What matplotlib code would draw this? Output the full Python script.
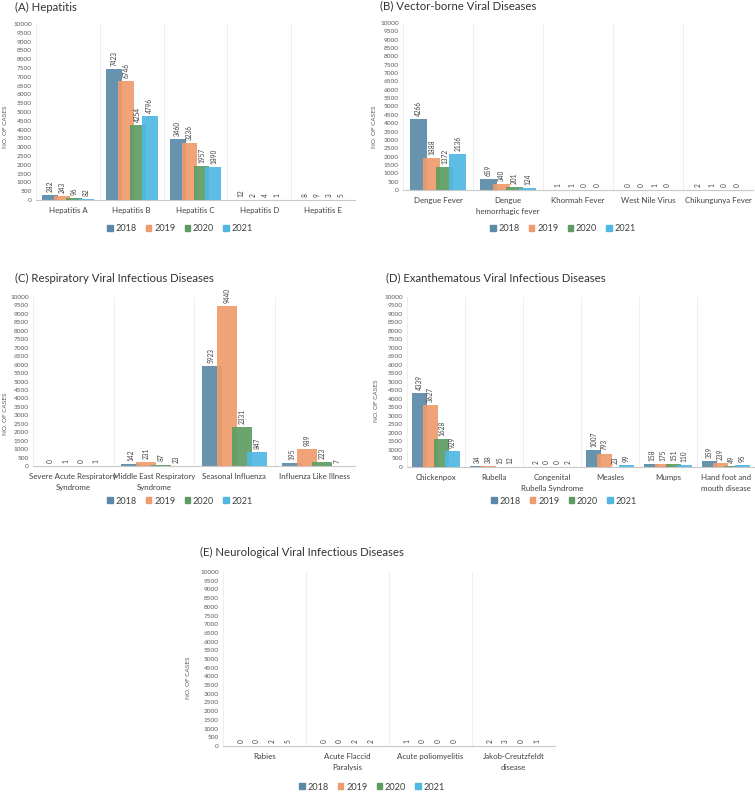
import numpy as np
import matplotlib
matplotlib.use("Agg")
from matplotlib import pyplot as plt
from matplotlib.patches import Patch

plt.rcParams['font.family'] = ['Lato', 'DejaVu Sans']

YEARS = ['2018', '2019', '2020', '2021']
COLORS = ['#5a8aa8', '#f09b6c', '#5f9c64', '#50b8e2']

# (A) Hepatitis
hep_labels = ['Hepatitis A', 'Hepatitis B', 'Hepatitis C', 'Hepatitis D', 'Hepatitis E']
hep_2018 = [282, 7423, 3460, 12, 8]
hep_2019 = [243, 6746, 3236, 2, 9]
hep_2020 = [96, 4254, 1957, 4, 3]
hep_2021 = [82, 4796, 1890, 1, 5]

# (B) Vector-borne
vec_labels = ['Dengue Fever', 'Dengue\nhemorrhagic fever', 'Khormah Fever',
              'West Nile Virus', 'Chikungunya Fever']
vec_2018 = [4266, 659, 1, 0, 2]
vec_2019 = [1888, 340, 1, 0, 1]
vec_2020 = [1372, 201, 0, 1, 0]
vec_2021 = [2136, 124, 0, 0, 0]

# (C) Respiratory
resp_labels = ['Severe Acute Respiratory\nSyndrome', 'Middle East Respiratory\nSyndrome',
               'Seasonal Influenza', 'Influenza Like Illness']
resp_2018 = [0, 142, 5923, 195]
resp_2019 = [1, 231, 9440, 989]
resp_2020 = [0, 87, 2331, 223]
resp_2021 = [1, 23, 847, 7]

# (D) Exanthematous
exan_labels = ['Chickenpox', 'Rubella', 'Congenital\nRubella Syndrome', 'Measles',
               'Mumps', 'Hand foot and\nmouth disease']
exan_2018 = [4339, 34, 2, 1007, 158, 359]
exan_2019 = [3627, 38, 0, 793, 175, 239]
exan_2020 = [1628, 15, 0, 23, 151, 49]
exan_2021 = [929, 12, 2, 99, 110, 95]

# (E) Neurological
neuro_labels = ['Rabies', 'Acute Flaccid\nParalysis', 'Acute poliomyelitis',
                'Jakob-Creutzfeldt\ndisease']
neuro_2018 = [0, 0, 1, 2]
neuro_2019 = [0, 0, 0, 3]
neuro_2020 = [2, 2, 0, 0]
neuro_2021 = [5, 2, 0, 1]

W, H = 755, 793
fig = plt.figure(figsize=(W / 100, H / 100), dpi=100)


def px_axes(left, top, right, bottom):
    return fig.add_axes([left / W, 1 - bottom / H, (right - left) / W, (bottom - top) / H])


def draw_panel(box, title, title_xy, labels, series, ylab_xy, leg_xy):
    ax = px_axes(*box)
    n = len(labels)
    x = np.arange(n)
    step, width = 0.1875, 0.25
    for k, vals in enumerate(series):
        pos = x + (k - 1.5) * step
        ax.bar(pos, vals, width=width, color=COLORS[k], alpha=0.92, zorder=2 + k)
        for p, v in zip(pos, vals):
            ax.annotate(str(v), (p, v), xytext=(0, 2.2), textcoords='offset points',
                        rotation=90, ha='center', va='bottom', fontsize=4.7,
                        color='#404040', zorder=10)
    for b in np.arange(n + 1) - 0.5:
        ax.axvline(b, color='#ebebeb', lw=0.6, zorder=0)
    ax.set_xlim(-0.5, n - 0.5)
    ax.set_ylim(0, 10000)
    ax.set_yticks(np.arange(0, 10001, 500))
    ax.set_xticks(x)
    ax.set_xticklabels(labels, fontsize=5.7, color='#404040', linespacing=1.6)
    ax.tick_params(axis='y', length=0, labelsize=4.6, labelcolor='#595959', pad=3)
    ax.tick_params(axis='x', length=0, pad=5)
    for s in ['top', 'right', 'left']:
        ax.spines[s].set_visible(False)
    ax.spines['bottom'].set_color('#c8c8c8')
    ax.spines['bottom'].set_linewidth(0.8)
    fig.text(title_xy[0] / W, 1 - title_xy[1] / H, title, fontsize=8.2,
             color='#333333', ha='left', va='center')
    fig.text(ylab_xy[0] / W, 1 - ylab_xy[1] / H, 'NO. OF CASES', fontsize=4.6,
             color='#595959', rotation=90, ha='center', va='center')
    handles = [Patch(color=c, label=y) for c, y in zip(COLORS, YEARS)]
    fig.legend(handles=handles, loc='center', bbox_to_anchor=(leg_xy[0] / W, 1 - leg_xy[1] / H),
               ncol=4, frameon=False, fontsize=6.6, handlelength=0.6, handleheight=0.6,
               handletextpad=0.3, columnspacing=1.0, labelcolor='#404040')
    return ax


draw_panel((36, 24, 355, 200), '(A) Hepatitis', (15, 7), hep_labels,
           [hep_2018, hep_2019, hep_2020, hep_2021], (6, 127), (180, 229))
draw_panel((403, 23, 753, 190), '(B) Vector-borne Viral Diseases', (380, 6), vec_labels,
           [vec_2018, vec_2019, vec_2020, vec_2021], (374, 127), (563, 229))
draw_panel((33, 297, 355, 466), '(C) Respiratory Viral Infectious Diseases', (15, 278), resp_labels,
           [resp_2018, resp_2019, resp_2020, resp_2021], (6, 414), (180, 501))
draw_panel((407, 297, 755, 467), '(D) Exanthematous Viral Infectious Diseases', (386, 278), exan_labels,
           [exan_2018, exan_2019, exan_2020, exan_2021], (376, 401), (564, 501))
draw_panel((223, 572, 555, 746), '(E) Neurological Viral Infectious Diseases', (200, 552), neuro_labels,
           [neuro_2018, neuro_2019, neuro_2020, neuro_2021], (188, 678), (372, 787))

fig.savefig('out.png', dpi=100)
